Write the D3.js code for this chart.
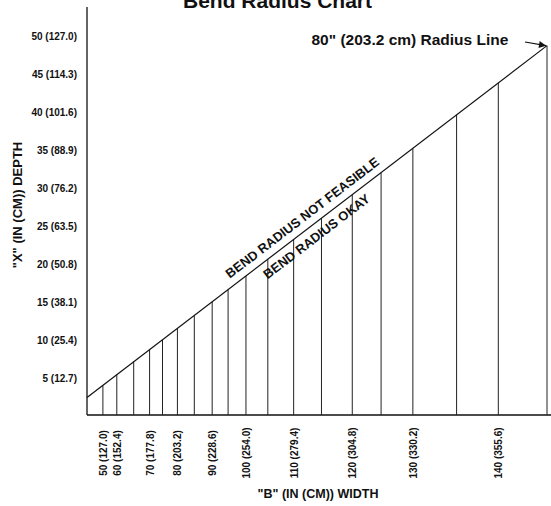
<!DOCTYPE html>
<html>
<head>
<meta charset="utf-8">
<script src="https://cdn.jsdelivr.net/npm/d3@7"></script>
<style>
  body { margin: 0; background: #fff; }
  text { font-family: "Liberation Sans", Arial, Helvetica, sans-serif; font-weight: bold; fill: #111; }
</style>
</head>
<body>
<svg id="chart" width="551" height="506"></svg>
<script>
// Depth ("X") ticks and their inch (cm) labels
const depthTicks = [5, 10, 15, 20, 25, 30, 35, 40, 45, 50];
const depthLabels = ["5 (12.7)", "10 (25.4)", "15 (38.1)", "20 (50.8)", "25 (63.5)",
                     "30 (76.2)", "35 (88.9)", "40 (101.6)", "45 (114.3)", "50 (127.0)"];

// Width ("B") labels and the depth each one reaches under the radius line
const widthLabels = ["50 (127.0)", "60 (152.4)", "70 (177.8)", "80 (203.2)", "90 (228.6)",
                     "100 (254.0)", "110 (279.4)", "120 (304.8)", "130 (330.2)", "140 (355.6)"];
const widthDepths = [3.9, 5.3, 8.6, 11.4, 14.9, 18.3, 23.1, 29.0, 35.1, 43.7];

// Every vertical guide line, by the depth it rises to
const guideDepths = [3.9, 5.3, 7.0, 8.6, 9.9, 11.4, 13.1, 14.9, 16.5, 18.3,
                     20.5, 23.1, 25.9, 29.0, 31.9, 35.1, 39.5, 43.7, 48.6];

// The 80" radius line runs between these depths
const radiusLine = [2.3, 48.6];

const svg = d3.select("#chart");

const y = d3.scaleLinear().domain([0, 50]).range([415, 35]);
const x = d3.scaleLinear().domain(radiusLine).range([87, 547]);

const ink = "#111";

// Title
svg.append("text")
  .attr("x", 183).attr("y", 8)
  .style("font-size", "21px")
  .text("Bend Radius Chart");

// Frame: left axis and baseline
svg.append("line")
  .attr("x1", 87).attr("x2", 87).attr("y1", 7).attr("y2", y(0))
  .attr("stroke", ink).attr("stroke-width", 1.3);
svg.append("line")
  .attr("x1", 87).attr("x2", 551).attr("y1", y(0)).attr("y2", y(0))
  .attr("stroke", ink).attr("stroke-width", 1.3);

// Vertical guide lines from the baseline up to the radius line
svg.append("g").selectAll("line")
  .data(guideDepths)
  .join("line")
  .attr("x1", d => x(d)).attr("x2", d => x(d))
  .attr("y1", y(0)).attr("y2", d => y(d))
  .attr("stroke", "#222").attr("stroke-width", 1);

// Radius line
svg.append("line")
  .attr("x1", x(radiusLine[0])).attr("y1", y(radiusLine[0]))
  .attr("x2", x(radiusLine[1])).attr("y2", y(radiusLine[1]))
  .attr("stroke", ink).attr("stroke-width", 1.2);

// Depth labels
const yAxis = svg.append("g")
  .attr("transform", "translate(87,1)")
  .call(d3.axisLeft(y).tickValues(depthTicks)
    .tickFormat((d, i) => depthLabels[i]).tickSize(0).tickPadding(10));
yAxis.select(".domain").remove();
yAxis.selectAll("text")
  .style("font-size", "10px")
  .style("font-family", null)
  .attr("fill", ink);

// Width labels, rotated
const xAxis = svg.append("g")
  .attr("transform", `translate(0,${y(0)})`)
  .call(d3.axisBottom(x).tickValues(widthDepths)
    .tickFormat((d, i) => widthLabels[i]).tickSize(0));
xAxis.select(".domain").remove();
xAxis.selectAll("text")
  .attr("transform", "rotate(-90)")
  .attr("x", -38).attr("y", 0).attr("dy", null)
  .attr("text-anchor", "middle")
  .attr("dominant-baseline", "central")
  .attr("fill", ink)
  .style("font-size", "10px")
  .style("font-family", null);

// Axis titles
svg.append("text")
  .attr("transform", "translate(17,205) rotate(-90)")
  .attr("text-anchor", "middle")
  .attr("dominant-baseline", "central")
  .style("font-size", "13px")
  .text('"X" (IN (CM)) DEPTH');

svg.append("text")
  .attr("x", 318).attr("y", 498)
  .attr("text-anchor", "middle")
  .style("font-size", "12.5px")
  .text('"B" (IN (CM)) WIDTH');

// Region labels either side of the radius line
const p0 = [x(radiusLine[0]), y(radiusLine[0])];
const p1 = [x(radiusLine[1]), y(radiusLine[1])];
const angle = Math.atan2(p1[1] - p0[1], p1[0] - p0[0]) * 180 / Math.PI;
const labelDepth = 24.7;
const region = svg.append("g")
  .attr("transform", `translate(${x(labelDepth)},${y(labelDepth)}) rotate(${angle})`);
region.append("text")
  .attr("y", -12).attr("text-anchor", "middle").attr("dominant-baseline", "central")
  .style("font-size", "13px")
  .text("BEND RADIUS NOT FEASIBLE");
region.append("text")
  .attr("y", 11.5).attr("text-anchor", "middle").attr("dominant-baseline", "central")
  .style("font-size", "13px")
  .text("BEND RADIUS OKAY");

// Callout for the radius line
svg.append("defs").append("marker")
  .attr("id", "arrow")
  .attr("viewBox", "0 0 10 10")
  .attr("refX", 10).attr("refY", 5)
  .attr("markerWidth", 9).attr("markerHeight", 7)
  .attr("markerUnits", "userSpaceOnUse")
  .attr("orient", "auto")
  .append("path").attr("d", "M0,0L10,5L0,10Z").attr("fill", ink);

svg.append("text")
  .attr("x", 311.5).attr("y", 45)
  .style("font-size", "15.5px")
  .text('80" (203.2 cm) Radius Line');

svg.append("line")
  .attr("x1", 525).attr("y1", 42)
  .attr("x2", p1[0] - 1).attr("y2", p1[1])
  .attr("stroke", ink).attr("stroke-width", 1.2)
  .attr("marker-end", "url(#arrow)");
</script>
</body>
</html>
